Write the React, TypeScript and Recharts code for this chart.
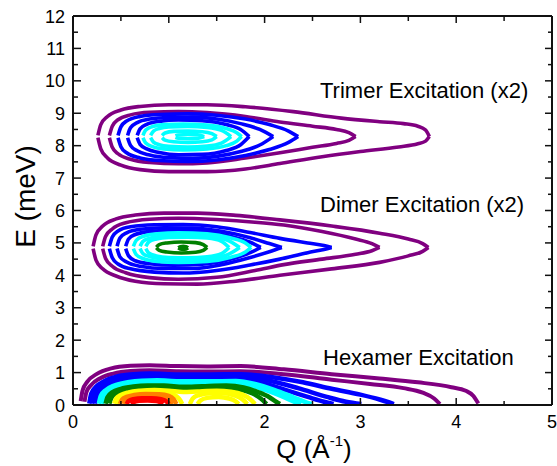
import React from 'react';
import { ComposedChart, Line, XAxis, YAxis } from 'recharts';

type Pt = [number, number];

// ---------- tick values ----------
const X_TICKS: number[] = [0, 0.5, 1, 1.5, 2, 2.5, 3, 3.5, 4, 4.5, 5];
const Y_TICKS: number[] = [0, 0.5, 1, 1.5, 2, 2.5, 3, 3.5, 4, 4.5, 5, 5.5, 6, 6.5, 7, 7.5, 8, 8.5, 9, 9.5, 10, 10.5, 11, 11.5, 12];

// ---------- texts ----------
const ANNOTATIONS: string[] = ['Trimer Excitation (x2)', 'Dimer Excitation (x2)', 'Hexamer Excitation'];
const X_TITLE = 'Q (Å';
const X_TITLE_SUP = '-1';
const Y_TITLE = 'E (meV)';

// ---------- trimer contours (upper / lower halves), outer -> inner ----------
const trimerUpper: Pt[][] = [
  [[0.26, 8.315], [0.29, 8.65], [0.36, 8.9], [0.5, 9.1], [0.7, 9.21], [1.0, 9.26], [1.4, 9.26], [1.8, 9.2], [2.3, 9.05], [2.8, 8.85], [3.2, 8.74], [3.45, 8.68], [3.6, 8.6], [3.68, 8.48], [3.72, 8.28]],
  [[0.38, 8.315], [0.41, 8.6], [0.47, 8.8], [0.6, 8.95], [0.8, 9.03], [1.1, 9.05], [1.4, 9.02], [1.8, 8.9], [2.16, 8.73], [2.5, 8.6], [2.75, 8.5], [2.88, 8.4], [2.95, 8.28]],
  [[0.47, 8.315], [0.5, 8.58], [0.56, 8.76], [0.7, 8.9], [0.9, 8.96], [1.2, 8.98], [1.5, 8.94], [1.8, 8.82], [2.05, 8.65], [2.25, 8.45], [2.35, 8.28]],
  [[0.57, 8.315], [0.6, 8.55], [0.67, 8.71], [0.8, 8.82], [1.0, 8.87], [1.25, 8.88], [1.5, 8.82], [1.75, 8.68], [1.95, 8.5], [2.09, 8.28]],
  [[0.67, 8.315], [0.7, 8.52], [0.77, 8.66], [0.9, 8.75], [1.1, 8.79], [1.35, 8.77], [1.6, 8.65], [1.75, 8.5], [1.84, 8.28]],
  [[0.73, 8.315], [0.76, 8.48], [0.83, 8.59], [0.95, 8.65], [1.15, 8.67], [1.4, 8.64], [1.6, 8.53], [1.71, 8.4], [1.76, 8.28]],
  [[0.81, 8.315], [0.84, 8.45], [0.9, 8.53], [1.0, 8.58], [1.2, 8.59], [1.4, 8.56], [1.55, 8.47], [1.65, 8.28]],
  [[0.93, 8.315], [0.96, 8.39], [1.05, 8.44], [1.2, 8.45], [1.35, 8.43], [1.45, 8.37], [1.5, 8.28]],
  [[1.07, 8.3], [1.1, 8.33], [1.2, 8.345], [1.3, 8.335], [1.37, 8.28]],
];
const trimerLower: Pt[][] = [
  [[0.26, 8.245], [0.29, 7.9], [0.36, 7.62], [0.5, 7.4], [0.7, 7.26], [1.0, 7.2], [1.4, 7.2], [1.8, 7.28], [2.16, 7.45], [2.6, 7.66], [3.0, 7.82], [3.4, 7.96], [3.6, 8.06], [3.68, 8.14], [3.72, 8.28]],
  [[0.38, 8.245], [0.41, 7.95], [0.47, 7.75], [0.6, 7.58], [0.8, 7.48], [1.1, 7.44], [1.4, 7.47], [1.8, 7.62], [2.16, 7.78], [2.5, 7.95], [2.75, 8.07], [2.88, 8.16], [2.95, 8.28]],
  [[0.47, 8.245], [0.5, 7.97], [0.56, 7.78], [0.7, 7.62], [0.9, 7.54], [1.2, 7.51], [1.5, 7.56], [1.8, 7.7], [2.05, 7.88], [2.25, 8.1], [2.35, 8.28]],
  [[0.57, 8.245], [0.6, 8.01], [0.67, 7.84], [0.8, 7.71], [1.0, 7.63], [1.25, 7.61], [1.5, 7.67], [1.75, 7.82], [1.95, 8.02], [2.09, 8.28]],
  [[0.67, 8.245], [0.7, 8.04], [0.77, 7.9], [0.9, 7.79], [1.1, 7.72], [1.35, 7.73], [1.6, 7.85], [1.75, 8.03], [1.84, 8.28]],
  [[0.73, 8.245], [0.76, 8.08], [0.83, 7.97], [0.95, 7.9], [1.15, 7.87], [1.4, 7.9], [1.6, 8.0], [1.71, 8.14], [1.76, 8.28]],
  [[0.81, 8.245], [0.84, 8.11], [0.9, 8.03], [1.0, 7.98], [1.2, 7.96], [1.4, 7.99], [1.55, 8.08], [1.65, 8.28]],
  [[0.93, 8.245], [0.96, 8.17], [1.05, 8.12], [1.2, 8.1], [1.35, 8.12], [1.45, 8.18], [1.5, 8.28]],
  [[1.07, 8.26], [1.1, 8.23], [1.2, 8.215], [1.3, 8.225], [1.37, 8.28]],
];

// ---------- dimer contours ----------
const dimerUpper: Pt[][] = [
  [[0.21, 4.895], [0.24, 5.25], [0.31, 5.52], [0.45, 5.74], [0.65, 5.86], [0.95, 5.92], [1.3, 5.92], [1.7, 5.85], [2.16, 5.71], [2.7, 5.52], [3.2, 5.3], [3.5, 5.12], [3.65, 4.98], [3.71, 4.86]],
  [[0.31, 4.895], [0.34, 5.2], [0.41, 5.43], [0.55, 5.62], [0.8, 5.73], [1.1, 5.76], [1.5, 5.72], [1.9, 5.64], [2.2, 5.55], [2.6, 5.35], [2.95, 5.12], [3.12, 4.98], [3.2, 4.86]],
  [[0.38, 4.895], [0.41, 5.18], [0.47, 5.37], [0.6, 5.5], [0.85, 5.56], [1.15, 5.57], [1.5, 5.5], [1.85, 5.32], [2.16, 5.14], [2.45, 5.0], [2.62, 4.92], [2.7, 4.86]],
  [[0.46, 4.895], [0.49, 5.15], [0.56, 5.31], [0.7, 5.42], [0.95, 5.47], [1.25, 5.46], [1.55, 5.36], [1.85, 5.16], [2.05, 4.98], [2.18, 4.86]],
  [[0.55, 4.895], [0.58, 5.12], [0.65, 5.26], [0.8, 5.35], [1.05, 5.39], [1.35, 5.36], [1.65, 5.2], [1.85, 5.02], [1.96, 4.86]],
  [[0.63, 4.895], [0.66, 5.08], [0.73, 5.2], [0.88, 5.28], [1.1, 5.31], [1.4, 5.28], [1.65, 5.15], [1.8, 5.0], [1.86, 4.86]],
  [[0.7, 4.895], [0.73, 5.05], [0.8, 5.14], [0.95, 5.21], [1.15, 5.23], [1.4, 5.2], [1.6, 5.1], [1.74, 4.86]],
  [[0.76, 4.895], [0.79, 5.03], [0.87, 5.12], [1.0, 5.17], [1.2, 5.18], [1.4, 5.15], [1.55, 5.05], [1.63, 4.86]],
  [[0.87, 4.87], [0.9, 4.95], [0.98, 5.0], [1.13, 5.03], [1.28, 5.01], [1.36, 4.95], [1.4, 4.86]],
  [[1.1, 4.85], [1.12, 4.885], [1.15, 4.895], [1.18, 4.885], [1.2, 4.85]],
];
const dimerLower: Pt[][] = [
  [[0.21, 4.825], [0.24, 4.47], [0.31, 4.2], [0.45, 3.98], [0.65, 3.82], [0.95, 3.74], [1.3, 3.73], [1.7, 3.82], [2.16, 4.0], [2.7, 4.2], [3.2, 4.4], [3.5, 4.6], [3.65, 4.74], [3.71, 4.86]],
  [[0.31, 4.825], [0.34, 4.52], [0.41, 4.28], [0.55, 4.08], [0.8, 3.93], [1.1, 3.88], [1.5, 3.94], [1.9, 4.15], [2.2, 4.33], [2.6, 4.5], [2.95, 4.65], [3.12, 4.76], [3.2, 4.86]],
  [[0.38, 4.825], [0.41, 4.54], [0.47, 4.35], [0.6, 4.2], [0.85, 4.1], [1.15, 4.07], [1.5, 4.15], [1.85, 4.32], [2.16, 4.5], [2.45, 4.7], [2.62, 4.8], [2.7, 4.86]],
  [[0.46, 4.825], [0.49, 4.57], [0.56, 4.41], [0.7, 4.28], [0.95, 4.21], [1.25, 4.21], [1.55, 4.33], [1.85, 4.55], [2.05, 4.73], [2.18, 4.86]],
  [[0.55, 4.825], [0.58, 4.6], [0.65, 4.45], [0.8, 4.36], [1.05, 4.31], [1.35, 4.34], [1.65, 4.5], [1.85, 4.7], [1.96, 4.86]],
  [[0.63, 4.825], [0.66, 4.64], [0.73, 4.52], [0.88, 4.43], [1.1, 4.4], [1.4, 4.43], [1.65, 4.56], [1.8, 4.72], [1.86, 4.86]],
  [[0.7, 4.825], [0.73, 4.67], [0.8, 4.58], [0.95, 4.51], [1.15, 4.49], [1.4, 4.52], [1.6, 4.62], [1.74, 4.86]],
  [[0.76, 4.825], [0.79, 4.69], [0.87, 4.6], [1.0, 4.55], [1.2, 4.54], [1.4, 4.57], [1.55, 4.67], [1.63, 4.86]],
  [[0.87, 4.85], [0.9, 4.77], [0.98, 4.72], [1.13, 4.69], [1.28, 4.71], [1.36, 4.77], [1.4, 4.86]],
  [[1.1, 4.85], [1.12, 4.815], [1.15, 4.805], [1.18, 4.815], [1.2, 4.85]],
];

// ---------- hexamer contours (upper edges, cut by E = 0) ----------
const hexamerEdges: Pt[][] = [
  [[0.08, 0.12], [0.1, 0.45], [0.15, 0.72], [0.25, 0.96], [0.4, 1.13], [0.6, 1.21], [0.8, 1.23], [1.1, 1.2], [1.4, 1.19], [1.75, 1.2], [2.2, 1.1], [2.7, 0.95], [3.2, 0.82], [3.6, 0.7], [3.95, 0.55], [4.1, 0.44], [4.18, 0.28], [4.23, 0.05]],
  [[0.12, 0.1], [0.14, 0.4], [0.19, 0.62], [0.28, 0.82], [0.42, 0.97], [0.6, 1.05], [0.8, 1.07], [1.1, 1.04], [1.4, 1.03], [1.75, 1.04], [2.2, 0.95], [2.7, 0.78], [3.1, 0.65], [3.45, 0.52], [3.65, 0.38], [3.77, 0.2], [3.83, 0.03]],
  [[0.17, 0.04], [0.19, 0.35], [0.24, 0.56], [0.33, 0.74], [0.46, 0.88], [0.63, 0.95], [0.8, 0.97], [1.1, 0.94], [1.4, 0.94], [1.75, 0.95], [2.1, 0.85], [2.4, 0.7], [2.7, 0.5], [3.0, 0.32], [3.2, 0.17], [3.35, 0.03]],
  [[0.2, 0.04], [0.22, 0.32], [0.27, 0.52], [0.36, 0.69], [0.5, 0.82], [0.66, 0.88], [0.82, 0.9], [1.1, 0.87], [1.4, 0.87], [1.75, 0.88], [2.05, 0.75], [2.35, 0.52], [2.65, 0.25], [2.85, 0.1], [3.01, 0.03]],
  [[0.23, 0.04], [0.25, 0.3], [0.3, 0.48], [0.39, 0.64], [0.53, 0.76], [0.69, 0.82], [0.85, 0.83], [1.1, 0.8], [1.4, 0.8], [1.72, 0.81], [1.95, 0.7], [2.2, 0.48], [2.45, 0.25], [2.62, 0.1], [2.72, 0.03]],
  [[0.27, 0.04], [0.29, 0.28], [0.34, 0.45], [0.43, 0.6], [0.57, 0.7], [0.72, 0.75], [0.88, 0.76], [1.1, 0.73], [1.4, 0.73], [1.7, 0.74], [1.9, 0.65], [2.1, 0.47], [2.3, 0.24], [2.42, 0.1], [2.49, 0.03]],
  [[0.3, 0.04], [0.32, 0.26], [0.37, 0.42], [0.46, 0.56], [0.6, 0.65], [0.75, 0.69], [0.9, 0.7], [1.1, 0.67], [1.4, 0.67], [1.68, 0.68], [1.88, 0.58], [2.05, 0.42], [2.22, 0.22], [2.32, 0.09], [2.38, 0.03]],
  [[0.34, 0.04], [0.36, 0.24], [0.41, 0.39], [0.5, 0.5], [0.63, 0.57], [0.78, 0.6], [0.95, 0.6], [1.15, 0.56], [1.35, 0.58], [1.6, 0.6], [1.78, 0.54], [1.93, 0.4], [2.05, 0.24], [2.12, 0.1], [2.16, 0.03]],
  [[0.38, 0.04], [0.4, 0.22], [0.45, 0.35], [0.54, 0.45], [0.66, 0.51], [0.8, 0.54], [0.95, 0.54], [1.15, 0.5], [1.35, 0.52], [1.58, 0.54], [1.74, 0.48], [1.87, 0.36], [1.96, 0.2], [2.02, 0.03]],
  [[0.43, 0.04], [0.45, 0.2], [0.5, 0.31], [0.58, 0.39], [0.7, 0.44], [0.85, 0.46], [1.0, 0.44], [1.15, 0.4], [1.3, 0.42], [1.5, 0.44], [1.65, 0.41], [1.77, 0.32], [1.85, 0.18], [1.9, 0.03]],
  [[0.46, 0.03], [0.48, 0.17], [0.53, 0.27], [0.61, 0.34], [0.73, 0.38], [0.88, 0.39], [1.0, 0.36], [1.08, 0.27], [1.12, 0.14], [1.14, 0.03]],
  [[1.22, 0.03], [1.25, 0.2], [1.31, 0.3], [1.43, 0.36], [1.57, 0.36], [1.69, 0.29], [1.77, 0.17], [1.82, 0.03]],
  [[1.3, 0.03], [1.33, 0.14], [1.4, 0.22], [1.52, 0.25], [1.63, 0.2], [1.7, 0.11], [1.73, 0.03]],
  [[0.49, 0.03], [0.51, 0.16], [0.56, 0.25], [0.64, 0.31], [0.76, 0.34], [0.9, 0.33], [1.0, 0.28], [1.05, 0.18], [1.08, 0.03]],
  [[0.53, 0.03], [0.55, 0.13], [0.6, 0.21], [0.68, 0.26], [0.78, 0.28], [0.9, 0.27], [0.98, 0.21], [1.02, 0.12], [1.04, 0.03]],
  [[0.56, 0.03], [0.58, 0.12], [0.63, 0.18], [0.72, 0.21], [0.82, 0.21], [0.92, 0.18], [0.98, 0.1], [1.0, 0.03]],
  [[0.61, 0.03], [0.63, 0.09], [0.69, 0.13], [0.78, 0.14], [0.87, 0.12], [0.92, 0.07], [0.94, 0.03]],
];

// ---------- styles ----------
const PURPLE = '#800080';
const BLUE = '#0000ff';
const CYAN = '#00ffff';
const GREEN = '#008000';
const YELLOW = '#ffff00';
const ORANGE = '#ff8000';
const RED = '#ff0000';

const trimerColors = [PURPLE, PURPLE, BLUE, BLUE, BLUE, CYAN, CYAN, CYAN, CYAN];
const dimerColors = [PURPLE, PURPLE, BLUE, BLUE, BLUE, CYAN, CYAN, CYAN, GREEN, GREEN];
const hexamerColors = [PURPLE, PURPLE, BLUE, BLUE, BLUE, CYAN, CYAN, GREEN, GREEN, YELLOW, YELLOW, YELLOW, YELLOW, ORANGE, ORANGE, RED, RED];
const hexamerWidths = [4, 4, 4.5, 4.5, 4.5, 4.5, 4.5, 4.5, 4.5, 4.5, 4.5, 4.5, 4.5, 4.5, 4.5, 4.5, 4.5];

const AXIS = '#111';
const FONT = '"Liberation Sans", Arial, Helvetica, sans-serif';

type Series = { key: string; data: { x: number; y: number }[]; color: string; width: number };

const toObj = (pts: Pt[]) => pts.map(([x, y]) => ({ x, y }));

const series: Series[] = [];
trimerUpper.forEach((pts, i) => {
  series.push({ key: `tu${i}`, data: toObj(pts), color: trimerColors[i], width: 3.6 });
  series.push({ key: `tl${i}`, data: toObj(trimerLower[i]), color: trimerColors[i], width: 3.6 });
});
dimerUpper.forEach((pts, i) => {
  series.push({ key: `du${i}`, data: toObj(pts), color: dimerColors[i], width: 3.6 });
  series.push({ key: `dl${i}`, data: toObj(dimerLower[i]), color: dimerColors[i], width: 3.6 });
});
hexamerEdges.forEach((pts, i) => {
  series.push({ key: `h${i}`, data: toObj(pts), color: hexamerColors[i], width: hexamerWidths[i] });
});

function BottomTick(props: any) {
  const { x, y, payload } = props;
  const v = payload.value as number;
  const major = Number.isInteger(v);
  return (
    <g>
      <line x1={x} y1={y} x2={x} y2={y - (major ? 7 : 4)} stroke={AXIS} strokeWidth={1.5} />
      {major && (
        <text x={x} y={y + 23} textAnchor="middle" fontSize={18} fontFamily={FONT} fill="#000">
          {v}
        </text>
      )}
    </g>
  );
}

function TopTick(props: any) {
  const { x, y, payload } = props;
  const major = Number.isInteger(payload.value);
  return <line x1={x} y1={y} x2={x} y2={y + (major ? 7 : 5)} stroke={AXIS} strokeWidth={1.5} />;
}

function LeftTick(props: any) {
  const { x, y, payload } = props;
  const v = payload.value as number;
  const major = Number.isInteger(v);
  return (
    <g>
      <line x1={x} y1={y} x2={x + (major ? 8 : 5)} y2={y} stroke={AXIS} strokeWidth={1.5} />
      {major && (
        <text x={x - 8} y={y + 6.5} textAnchor="end" fontSize={18} fontFamily={FONT} fill="#000">
          {v}
        </text>
      )}
    </g>
  );
}

function RightTick(props: any) {
  const { x, y, payload } = props;
  const major = Number.isInteger(payload.value);
  return <line x1={x} y1={y} x2={x - (major ? 7 : 4)} y2={y} stroke={AXIS} strokeWidth={1.5} />;
}

export default function App() {
  return (
    <div style={{ position: 'absolute', left: 0, top: 0, width: 557, height: 466, background: '#fff' }}>
      <ComposedChart width={557} height={466} margin={{ top: 15, right: 4, bottom: 0, left: 0 }}>
        <XAxis
          dataKey="x"
          type="number"
          domain={[0, 5]}
          allowDataOverflow
          ticks={X_TICKS}
          interval={0}
          height={61}
          tickSize={0}
          tickMargin={0}
          tickLine={false}
          tick={<BottomTick />}
          axisLine={{ stroke: AXIS, strokeWidth: 2 }}
        />
        <XAxis
          xAxisId="top"
          orientation="top"
          dataKey="x"
          type="number"
          domain={[0, 5]}
          allowDataOverflow
          ticks={X_TICKS}
          interval={0}
          height={1}
          tickSize={0}
          tickMargin={0}
          tickLine={false}
          tick={<TopTick />}
          axisLine={{ stroke: AXIS, strokeWidth: 2 }}
        />
        <YAxis
          type="number"
          domain={[0, 12]}
          allowDataOverflow
          ticks={Y_TICKS}
          interval={0}
          width={73}
          tickSize={0}
          tickMargin={0}
          tickLine={false}
          tick={<LeftTick />}
          axisLine={{ stroke: AXIS, strokeWidth: 2 }}
        />
        <YAxis
          yAxisId="right"
          orientation="right"
          type="number"
          domain={[0, 12]}
          allowDataOverflow
          ticks={Y_TICKS}
          interval={0}
          width={1}
          tickSize={0}
          tickMargin={0}
          tickLine={false}
          tick={<RightTick />}
          axisLine={{ stroke: AXIS, strokeWidth: 2 }}
        />
        {series.map((s) => (
          <Line
            key={s.key}
            data={s.data}
            dataKey="y"
            type="monotone"
            stroke={s.color}
            strokeWidth={s.width}
            dot={false}
            activeDot={false}
            isAnimationActive={false}
          />
        ))}
      </ComposedChart>
      <svg
        width={557}
        height={466}
        style={{ position: 'absolute', left: 0, top: 0, pointerEvents: 'none' }}
      >
        <text x={320} y={97.5} fontSize={22} fontFamily={FONT} fill="#000">{ANNOTATIONS[0]}</text>
        <text x={320} y={211.5} fontSize={22} fontFamily={FONT} fill="#000">{ANNOTATIONS[1]}</text>
        <text x={323} y={365} fontSize={22} fontFamily={FONT} fill="#000">{ANNOTATIONS[2]}</text>
        <text x={314} y={458} textAnchor="middle" fontSize={26} fontFamily={FONT} fill="#000">
          {X_TITLE}
          <tspan fontSize={15} dy={-12}>{X_TITLE_SUP}</tspan>
          <tspan dy={12}>)</tspan>
        </text>
        <text
          x={35}
          y={196.5}
          textAnchor="middle"
          fontSize={28}
          fontFamily={FONT}
          fill="#000"
          transform="rotate(-90, 35, 196.5)"
        >
          {Y_TITLE}
        </text>
      </svg>
    </div>
  );
}
